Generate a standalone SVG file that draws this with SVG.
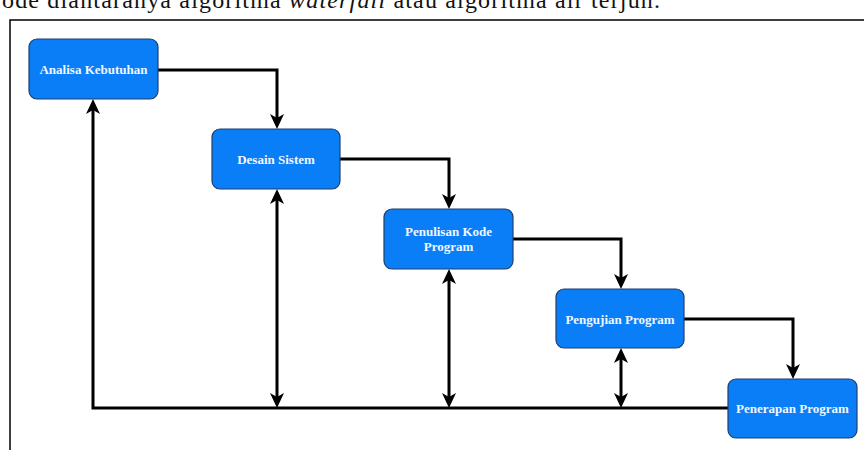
<svg xmlns="http://www.w3.org/2000/svg" width="864" height="450" viewBox="0 0 864 450">
<style>
.box{fill:#0A7EF6;stroke:#1E3F6E;stroke-width:1.2}
.lbl{font-family:"Liberation Serif","Times New Roman",serif;font-weight:bold;font-size:13px;fill:#F2F6FF;text-anchor:middle}
.con{fill:none;stroke:#000;stroke-width:3}
.cap{font-family:"Liberation Serif","Times New Roman",serif;font-size:24px;fill:#111}
</style>
<defs>
<marker id="arr" viewBox="-8 -8 17 16" refX="0" refY="0" markerWidth="17" markerHeight="16" markerUnits="userSpaceOnUse" orient="auto-start-reverse" overflow="visible">
<path d="M8,0 L-7,-7 L-3,0 L-7,7 Z" fill="#000"/>
</marker>
</defs>
<rect width="864" height="450" fill="#fff"/>
<text class="cap" x="2" y="8" textLength="658" lengthAdjust="spacing">ode diantaranya algoritma <tspan font-style="italic">waterfall</tspan> atau algoritma air terjun.</text>
<path d="M10,450 V20 H864" fill="none" stroke="#000" stroke-width="1.5"/>
<g id="connectors">
<path class="con" d="M158,70 H277 V121" marker-end="url(#arr)"/>
<path class="con" d="M340,159 H449 V201" marker-end="url(#arr)"/>
<path class="con" d="M513,239 H621 V281" marker-end="url(#arr)"/>
<path class="con" d="M684,319 H793 V371" marker-end="url(#arr)"/>
<path class="con" d="M728,408 H93 V107" marker-end="url(#arr)"/>
<path class="con" d="M277,197 V400" marker-start="url(#arr)" marker-end="url(#arr)"/>
<path class="con" d="M449,277 V400" marker-start="url(#arr)" marker-end="url(#arr)"/>
<path class="con" d="M621,356 V400" marker-start="url(#arr)" marker-end="url(#arr)"/>
</g>
<g id="analisa">
<rect class="box" x="29" y="39" width="129" height="60" rx="8"/>
<text class="lbl" x="93.5" y="73.5">Analisa Kebutuhan</text>
</g>
<g id="desain">
<rect class="box" x="212" y="129" width="128" height="60" rx="8"/>
<text class="lbl" x="276" y="163.5">Desain Sistem</text>
</g>
<g id="penulisan">
<rect class="box" x="384" y="209" width="129" height="60" rx="8"/>
<text class="lbl" x="448.5" y="236">Penulisan Kode</text>
<text class="lbl" x="448.5" y="250.5">Program</text>
</g>
<g id="pengujian">
<rect class="box" x="556" y="289" width="128" height="59" rx="8"/>
<text class="lbl" x="620" y="323.5">Pengujian Program</text>
</g>
<g id="penerapan">
<rect class="box" x="728" y="379" width="129" height="59" rx="8"/>
<text class="lbl" x="792.5" y="413">Penerapan Program</text>
</g>
</svg>
